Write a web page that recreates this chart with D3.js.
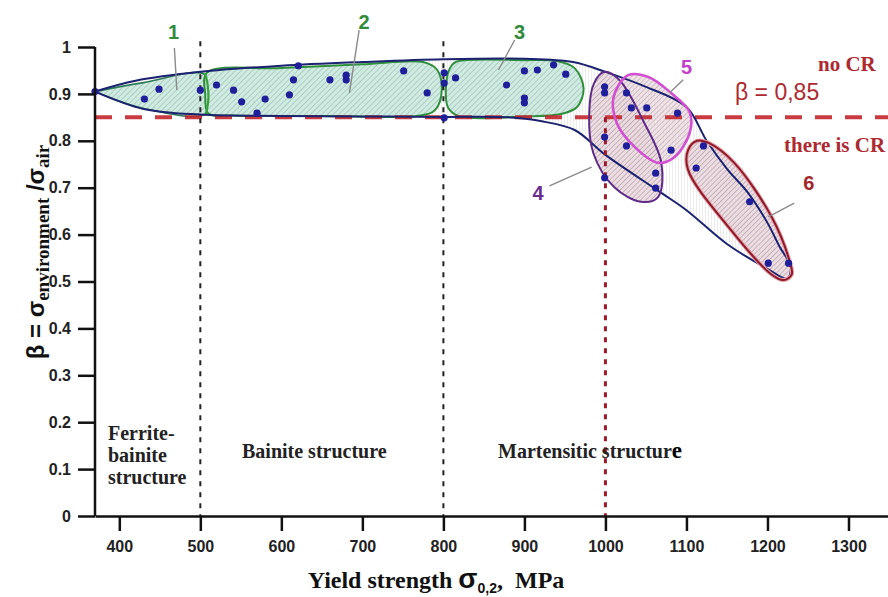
<!DOCTYPE html>
<html>
<head>
<meta charset="utf-8">
<script src="https://cdn.jsdelivr.net/npm/d3@7"></script>
<style>
  body { margin: 0; background: #fff; }
  svg text { font-family: "Liberation Sans", Arial, sans-serif; }
  .serif { font-family: "Liberation Serif", "Times New Roman", serif; font-weight: bold; }
</style>
</head>
<body>
<svg id="chart" width="888" height="597"></svg>
<script>
// ---- data ----
const xTicks = [400, 500, 600, 700, 800, 900, 1000, 1100, 1200, 1300];
const yTicks = [0, 0.1, 0.2, 0.3, 0.4, 0.5, 0.6, 0.7, 0.8, 0.9, 1];

// measured points: [yield strength MPa, beta]
const points = [
  [370, 0.905], [431, 0.889], [449, 0.91], [500, 0.908], [520, 0.919], [541, 0.908],
  [551, 0.883], [570, 0.859], [580, 0.889], [610, 0.898], [615, 0.93], [621, 0.96],
  [660, 0.93], [680, 0.94], [680, 0.93], [751, 0.949], [780, 0.902], [801, 0.945],
  [801, 0.923], [815, 0.934], [801, 0.849], [878, 0.919], [900, 0.949], [916, 0.951],
  [936, 0.962], [951, 0.942], [900, 0.891], [900, 0.881], [999, 0.915], [999, 0.902],
  [1026, 0.902], [1032, 0.87], [1051, 0.87], [1089, 0.859], [999, 0.808], [1026, 0.789],
  [1081, 0.78], [999, 0.721], [1062, 0.731], [1062, 0.699], [1121, 0.789], [1112, 0.742],
  [1178, 0.67], [1201, 0.539], [1226, 0.539]
];

// outer envelope (upper edge left->right, then lower edge right->left)
const envelopeUpper = [
  [370, 0.905], [420, 0.928], [500, 0.947], [600, 0.96], [700, 0.968], [800, 0.974],
  [900, 0.975], [960, 0.968], [1000, 0.947], [1050, 0.915], [1100, 0.872], [1125, 0.8],
  [1150, 0.74], [1176, 0.689], [1200, 0.625], [1215, 0.574], [1229, 0.53]
];
const envelopeLower = [
  [1224, 0.506], [1200, 0.527], [1150, 0.58], [1100, 0.652], [1069, 0.689], [1000, 0.77],
  [962, 0.823], [920, 0.842], [880, 0.85], [800, 0.851], [700, 0.852], [600, 0.853],
  [500, 0.856], [430, 0.868], [370, 0.905]
];

// grouped zones
const zone1 = [[370, 0.905], [430, 0.924], [505, 0.942], [510, 0.9], [506, 0.857], [430, 0.869], [370, 0.905]];
const zone2 = [[508, 0.945], [600, 0.955], [700, 0.963], [775, 0.968], [792, 0.952], [798, 0.908],
  [790, 0.866], [772, 0.854], [650, 0.853], [540, 0.854], [510, 0.858], [506, 0.9]];
const zone3 = [[815, 0.968], [900, 0.972], [940, 0.97], [962, 0.955], [973, 0.912], [965, 0.872],
  [945, 0.857], [900, 0.852], [820, 0.852], [806, 0.87], [803, 0.91], [808, 0.955]];
const zone4 = [[999, 0.947], [1017, 0.93], [1048, 0.838], [1069, 0.753], [1065, 0.68], [1044, 0.67],
  [1011, 0.701], [985, 0.774], [980, 0.859], [986, 0.923]];
const zone5 = [[1028, 0.94], [1053, 0.936], [1081, 0.902], [1104, 0.861], [1104, 0.817], [1085, 0.765],
  [1065, 0.753], [1036, 0.787], [1014, 0.838], [1010, 0.893]];
const zone6 = [[1113, 0.8], [1128, 0.795], [1159, 0.753], [1205, 0.638], [1227, 0.545], [1230, 0.515],
  [1220, 0.503], [1205, 0.515], [1152, 0.616], [1102, 0.738], [1102, 0.78]];
const zoneDivider = [[506, 0.944], [509, 0.92], [510, 0.89], [507, 0.857]];

const structureBounds = [500, 800];
const betaCritical = 0.85;
const yieldCritical = 1000;

// zone numbers: label position and leader line, in data units
const zoneLabels = [
  { text: "1", at: [467, 1.032], from: [468, 0.998], to: [471, 0.908], color: "#2f8a3a" },
  { text: "2", at: [702, 1.053], from: [696, 1.036], to: [684, 0.902], color: "#2f8a3a" },
  { text: "3", at: [894, 1.032], from: [888, 1.015], to: [868, 0.951], color: "#2f8a3a" },
  { text: "4", at: [917, 0.689], from: [931, 0.704], to: [983, 0.744], color: "#6a2c8e" },
  { text: "5", at: [1100, 0.957], from: [1096, 0.93], to: [1079, 0.902], color: "#c040c8" },
  { text: "6", at: [1251, 0.71], from: [1233, 0.667], to: [1201, 0.638], color: "#a0282c" }
];

// ---- drawing ----
const svg = d3.select("#chart");
const x = d3.scaleLinear().domain([370, 1350]).range([95, 889]);
const y = d3.scaleLinear().domain([0, 1]).range([516, 47]);

const defs = svg.append("defs");
function hatch(id, bg, line, angle, gap, w) {
  const p = defs.append("pattern")
    .attr("id", id)
    .attr("patternUnits", "userSpaceOnUse")
    .attr("width", gap).attr("height", gap)
    .attr("patternTransform", "rotate(" + angle + ")");
  p.append("rect").attr("width", gap).attr("height", gap).attr("fill", bg);
  p.append("line").attr("x1", 0).attr("y1", 0).attr("x2", 0).attr("y2", gap)
    .attr("stroke", line).attr("stroke-width", w);
}
hatch("hTeal", "#cfece2", "#8fa39b", 45, 4, 0.9);
hatch("hPink", "#ecd9e0", "#85787f", 45, 3.6, 0.9);
hatch("hVert", "#ffffff", "#cfcfcf", 0, 3, 0.8);

const openLine = d3.line().x(d => x(d[0])).y(d => y(d[1])).curve(d3.curveCatmullRom.alpha(0.5));
const closedLine = d3.line().x(d => x(d[0])).y(d => y(d[1])).curve(d3.curveCatmullRomClosed.alpha(0.5));

const envelope = envelopeUpper.concat(envelopeLower);

// envelope fill
svg.append("path").attr("d", openLine(envelope)).attr("fill", "url(#hVert)");

// teal zones
svg.append("path").attr("d", openLine(zone1)).attr("fill", "url(#hTeal)")
  .attr("stroke", "#2c7a55").attr("stroke-width", 1.6);
[zone2, zone3].forEach(z => {
  svg.append("path").attr("d", closedLine(z)).attr("fill", "url(#hTeal)")
    .attr("stroke", "#2f8f3c").attr("stroke-width", 2);
});
svg.append("path").attr("d", openLine(zoneDivider)).attr("fill", "none")
  .attr("stroke", "#36a23a").attr("stroke-width", 2.2);

// pink zones
svg.append("path").attr("d", closedLine(zone4)).attr("fill", "url(#hPink)").attr("fill-opacity", 0.9);
svg.append("path").attr("d", closedLine(zone6)).attr("fill", "url(#hPink)").attr("fill-opacity", 0.9);
svg.append("path").attr("d", closedLine(zone5)).attr("fill", "url(#hPink)").attr("fill-opacity", 0.75);

// critical beta line
svg.append("line")
  .attr("x1", x(370)).attr("x2", 888)
  .attr("y1", y(betaCritical)).attr("y2", y(betaCritical))
  .attr("stroke", "#c3262c").attr("stroke-width", 4).attr("stroke-opacity", 0.9)
  .attr("stroke-dasharray", "17,13");

// envelope outline
svg.append("path").attr("d", openLine(envelope)).attr("fill", "none")
  .attr("stroke", "#1b2370").attr("stroke-width", 2);

// zone outlines
svg.append("path").attr("d", closedLine(zone4)).attr("fill", "none")
  .attr("stroke", "#5e2a88").attr("stroke-width", 2);
svg.append("path").attr("d", closedLine(zone6)).attr("fill", "none")
  .attr("stroke", "#e7a0a8").attr("stroke-width", 4);
svg.append("path").attr("d", closedLine(zone6)).attr("fill", "none")
  .attr("stroke", "#8c1a2a").attr("stroke-width", 2);
svg.append("path").attr("d", closedLine(zone5)).attr("fill", "none")
  .attr("stroke", "#d24fd2").attr("stroke-width", 2.6);

// structure boundaries
structureBounds.forEach(v => {
  svg.append("line")
    .attr("x1", x(v)).attr("x2", x(v)).attr("y1", y(1.012)).attr("y2", y(0))
    .attr("stroke", "#222").attr("stroke-width", 2).attr("stroke-dasharray", "5,6");
});
svg.append("line")
  .attr("x1", x(yieldCritical)).attr("x2", x(yieldCritical))
  .attr("y1", y(betaCritical)).attr("y2", y(0))
  .attr("stroke", "#9a1c2c").attr("stroke-width", 3).attr("stroke-dasharray", "5,6");

// points
svg.append("g").selectAll("circle")
  .data(points)
  .enter().append("circle")
  .attr("cx", d => x(d[0]))
  .attr("cy", d => y(d[1]))
  .attr("r", 3.6)
  .attr("fill", "#1f1f9c");

// zone labels
zoneLabels.forEach(l => {
  svg.append("line")
    .attr("x1", x(l.from[0])).attr("y1", y(l.from[1]))
    .attr("x2", x(l.to[0])).attr("y2", y(l.to[1]))
    .attr("stroke", "#8a8a8a").attr("stroke-width", 1.4);
  svg.append("text")
    .attr("x", x(l.at[0])).attr("y", y(l.at[1]))
    .attr("text-anchor", "middle").attr("dominant-baseline", "central")
    .attr("font-size", 20).attr("font-weight", "bold")
    .attr("fill", l.color)
    .text(l.text);
});

// axes
const yAxis = d3.axisLeft(y).tickValues(yTicks).tickSize(17).tickSizeOuter(0).tickPadding(7)
  .tickFormat(d => (d === 0 || d === 1) ? String(d) : d.toFixed(1));
const xAxis = d3.axisBottom(x).tickValues(xTicks).tickSize(15).tickSizeOuter(0).tickPadding(10)
  .tickFormat(d3.format("d"));

const gy = svg.append("g").attr("transform", "translate(" + x(370) + ",0)").call(yAxis);
const gx = svg.append("g").attr("transform", "translate(0," + y(0) + ")").call(xAxis);
[gx, gy].forEach(g => {
  g.selectAll("path, line").attr("stroke", "#111").attr("stroke-width", 2.5);
  g.selectAll("text").attr("font-size", 16).attr("font-weight", "bold").attr("fill", "#222")
    .attr("font-family", "'Liberation Sans', Arial, sans-serif");
});
gy.select(".domain").attr("d", "M0," + y(0) + "V" + y(1));

// axis titles
const xt = svg.append("text").attr("x", 436).attr("y", 588).attr("text-anchor", "middle").attr("fill", "#111");
xt.append("tspan").attr("class", "serif").attr("font-size", 24).text("Yield strength ");
xt.append("tspan").attr("font-size", 28).attr("font-weight", "bold").text("σ");
xt.append("tspan").attr("font-size", 14).attr("font-weight", "bold").attr("dy", 5).text("0,2");
xt.append("tspan").attr("class", "serif").attr("font-size", 24).attr("dy", -5).text(",\u00a0\u00a0MPa");

const yt = svg.append("text").attr("transform", "translate(44,252) rotate(-90)")
  .attr("text-anchor", "middle").attr("fill", "#111");
yt.append("tspan").attr("font-size", 24).attr("font-weight", "bold").text("β = σ");
yt.append("tspan").attr("class", "serif").attr("font-size", 19).attr("dy", 5).text("environment");
yt.append("tspan").attr("font-size", 24).attr("font-weight", "bold").attr("dy", -5).text(" /σ");
yt.append("tspan").attr("class", "serif").attr("font-size", 19).attr("dy", 5).text("air");

// CR annotations
svg.append("text").attr("class", "serif").attr("x", 818).attr("y", 71)
  .attr("font-size", 21).attr("fill", "#ad2a30").text("no CR");
svg.append("text").attr("x", 735).attr("y", 100)
  .attr("font-size", 23).attr("fill", "#ad2a30").text("β = 0,85");
svg.append("text").attr("class", "serif").attr("x", 784).attr("y", 152)
  .attr("font-size", 21).attr("fill", "#ad2a30").text("there is CR");

// structure labels
const ferr = svg.append("text").attr("class", "serif").attr("font-size", 20).attr("fill", "#222");
["Ferrite-", "bainite", "structure"].forEach((s, i) => {
  ferr.append("tspan").attr("x", 108).attr("y", 440 + i * 22).text(s);
});
svg.append("text").attr("class", "serif").attr("font-size", 20).attr("fill", "#222")
  .attr("x", 242).attr("y", 458).text("Bainite structure");
const mart = svg.append("text").attr("class", "serif").attr("font-size", 20).attr("fill", "#222")
  .attr("x", 498).attr("y", 458);
mart.append("tspan").text("Martensitic structur");
mart.append("tspan").attr("font-size", 23).attr("fill", "#000").text("e");
</script>
</body>
</html>
